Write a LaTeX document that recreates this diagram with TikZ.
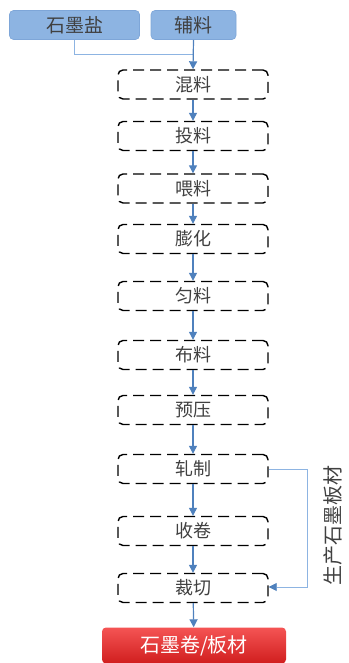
\documentclass[tikz,border=0pt]{standalone}
\usepackage{fontspec}
\setmainfont{Noto Sans CJK SC}
\usetikzlibrary{arrows.meta}
\definecolor{topfill}{HTML}{8DB4E2}
\definecolor{topdraw}{HTML}{7EA6D8}
\definecolor{arrblue}{HTML}{4F81BD}
\definecolor{thinblue}{HTML}{8DB4E2}
\definecolor{txtgray}{HTML}{404040}
\definecolor{redtop}{HTML}{F45454}
\definecolor{redbot}{HTML}{D01E1E}
\tikzset{
  topbox/.style={draw=topdraw, fill=topfill, rounded corners=4pt, line width=0.6pt,
    minimum height=29pt, inner sep=0pt, text=txtgray, font=\fontsize{19}{19}\selectfont},
  procbox/.style={draw=black, dash pattern=on 11pt off 6pt, line width=1.4pt,
    rounded corners=5pt, minimum width=150pt, minimum height=29pt, inner sep=0pt,
    text=txtgray, font=\fontsize{18}{18}\selectfont},
  endbox/.style={rounded corners=4pt, top color=redtop, bottom color=redbot, draw=none,
    minimum width=184pt, minimum height=36pt, inner sep=0pt, text=white,
    font=\fontsize{20}{20}\selectfont},
  flow/.style={draw=arrblue, line width=1.2pt, -{Triangle[width=8pt,length=8pt]}},
  thin/.style={draw=thinblue, line width=0.8pt},
}
\begin{document}
\begin{tikzpicture}[x=1pt,y=-1pt]
\useasboundingbox (0,0) rectangle (348,663);
\node[topbox, minimum width=130pt] (gs) at (74.5,25) {石墨盐};
\node[topbox, minimum width=85pt] (fl) at (193.5,25) {辅料};
\node[procbox] (n1) at (193,84.5) {混料};
\node[procbox] (n2) at (193,136) {投料};
\node[procbox] (n3) at (193,188.5) {喂料};
\node[procbox] (n4) at (193,239) {膨化};
\node[procbox] (n5) at (193,296) {匀料};
\node[procbox] (n6) at (193,355) {布料};
\node[procbox] (n7) at (193,410) {预压};
\node[procbox] (n8) at (193,469) {轧制};
\node[procbox] (n9) at (193,531) {收卷};
\node[procbox] (n10) at (193,588) {裁切};
\node[endbox] (out) at (194,645.5) {石墨卷/板材};
\coordinate (j) at (193,54);
\draw[thin] (gs.south) |- (j);
\draw[flow] (fl.south) -- (n1.north);
\draw[flow] (n1) -- (n2);
\draw[flow] (n2) -- (n3);
\draw[flow] (n3) -- (n4);
\draw[flow] (n4) -- (n5);
\draw[flow] (n5) -- (n6);
\draw[flow] (n6) -- (n7);
\draw[flow] (n7) -- (n8);
\draw[flow] (n8) -- (n9);
\draw[flow] (n9) -- (n10);
\draw[flow] (n10) -- (out);
\coordinate (r1) at (307,469);
\coordinate (r2) at (307,587);
\draw[thin, -{Triangle[width=8pt,length=8pt,color=arrblue]}] (n8.east) -- (r1) -- (r2) -- (n10.east |- r2);
\node[rotate=90, text=txtgray, font=\fontsize{20}{20}\selectfont] (side) at (333,525) {生产石墨板材};
\end{tikzpicture}
\end{document}
